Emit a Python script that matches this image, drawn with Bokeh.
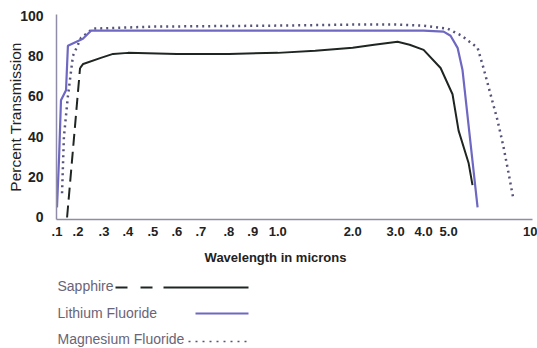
import numpy as np
from bokeh.plotting import figure
from bokeh.models import Range1d, FixedTicker
from bokeh.layouts import column
from bokeh.core.properties import value
from bokeh.embed import file_html
from bokeh.resources import INLINE

# ---- axis definition (irregular wavelength axis as printed) ----
TICK_WL = [0.1, 0.2, 0.3, 0.4, 0.5, 0.6, 0.7, 0.8, 0.9, 1.0, 2.0, 3.0, 4.0, 5.0, 10.0]
TICK_LABELS = [".1", ".2", ".3", ".4", ".5", ".6", ".7", ".8", ".9", "1.0",
               "2.0", "3.0", "4.0", "5.0", "10"]
TICK_POS = [56, 77, 103, 127, 152, 176, 200, 228, 252, 277, 352, 395, 423, 448, 530]
Y_TICKS = [0, 20, 40, 60, 80, 100]
X_TITLE = "Wavelength in microns"
Y_TITLE = "Percent Transmission"

# ---- series (wavelength in microns, percent transmission) ----
sapphire_dash_wl = [0.148, 0.208]
sapphire_dash_t = [0, 74]
sapphire_wl = [0.208, 0.22, 0.288, 0.338, 0.4, 0.6, 0.8, 1.0, 1.5, 2.0, 2.5, 3.07,
               3.5, 4.0, 4.68, 5.24, 5.61, 6.22, 6.46]
sapphire_t = [74, 76, 79, 81, 81.5, 81, 81, 81.5, 82.5, 84, 85.5, 87,
              85.5, 83, 74, 61, 43, 27, 16]

lif_wl = [0.100, 0.110, 0.119, 0.143, 0.152, 0.219, 0.25, 0.5, 1.0, 2.0, 3.0, 4.0,
          4.8, 5.12, 5.55, 5.85, 6.77]
lif_t = [5, 30, 58, 63, 85, 88.5, 92.5, 92.5, 92.5, 92.5, 92.5, 92.5,
         92, 90, 84, 73, 5]

mgf_wl = [0.124, 0.133, 0.152, 0.176, 0.212, 0.258, 0.5, 1.0, 2.0, 3.0, 4.0,
          4.96, 5.79, 6.77, 7.13, 7.56, 7.99, 8.35, 8.66, 8.96]
mgf_t = [12, 40, 60, 80, 89, 93.5, 94.5, 95, 95.5, 95.5, 95,
         93.5, 90, 84, 74, 61, 48, 35, 22, 9]

legend_names = ["Sapphire", "Lithium Fluoride", "Magnesium Fluoride"]


def ax(wl):
    return np.interp(np.asarray(wl, dtype=float), TICK_WL, TICK_POS)


FONT = "Liberation Sans"
AXIS_COLOR = "#8e8ca6"
SAPPHIRE_C = "#1f2622"
LIF_C = "#6e68c2"
MGF_C = "#55537a"

p = figure(width=537, height=245, output_backend="svg", toolbar_location=None,
           x_range=Range1d(55.5, 532), y_range=Range1d(-1, 100.5),
           min_border_left=56, min_border_right=5, min_border_top=14,
           min_border_bottom=26)
p.outline_line_color = None
p.grid.grid_line_color = None
p.background_fill_color = "white"
p.border_fill_color = "white"

p.xaxis.ticker = FixedTicker(ticks=TICK_POS)
p.xaxis.major_label_overrides = {pos: lab for pos, lab in zip(TICK_POS, TICK_LABELS)}
p.yaxis.ticker = FixedTicker(ticks=Y_TICKS)
p.yaxis.axis_label = Y_TITLE

for a in (p.xaxis, p.yaxis):
    a.axis_line_color = AXIS_COLOR
    a.axis_line_width = 1.5
    a.major_tick_line_color = None
    a.minor_tick_line_color = None
    a.major_label_text_font = FONT
    a.major_label_text_color = "#222222"
    a.major_label_text_font_style = "bold"
    a.axis_label_text_font = FONT
    a.axis_label_text_color = "#222222"
    a.axis_label_text_font_style = "normal"

p.xaxis.major_label_text_font_size = "13px"
p.xaxis.major_label_standoff = 1
p.yaxis.major_label_text_font_size = "14px"
p.yaxis.major_label_standoff = 7
p.yaxis.axis_label_text_font_size = "15.5px"
p.yaxis.axis_label_standoff = -7

# Magnesium fluoride (dotted)
p.line(ax(mgf_wl), mgf_t, line_color=MGF_C, line_width=2.5, line_dash="2 4")
# Lithium fluoride
p.line(ax(lif_wl), lif_t, line_color=LIF_C, line_width=2.2)
# Sapphire
p.line(ax(sapphire_dash_wl), sapphire_dash_t, line_color=SAPPHIRE_C, line_width=2,
       line_dash="12 6")
p.line(ax(sapphire_wl), sapphire_t, line_color=SAPPHIRE_C, line_width=2)

# ---- lower panel: x title and legend (text first, then sample line) ----
# its frame is aligned with the main frame (pixels 56..532), so use pixel units
lg = figure(width=537, height=103, output_backend="svg", toolbar_location=None,
            x_range=Range1d(56, 532), y_range=Range1d(103, 0),
            x_axis_location=None, y_axis_location=None,
            min_border_left=56, min_border_right=5, min_border_top=0,
            min_border_bottom=0)
lg.grid.grid_line_color = None
lg.outline_line_color = None
lg.background_fill_color = "white"
lg.border_fill_color = "white"

lg.text(x=[275], y=[12], text=[X_TITLE], text_font=value(FONT),
        text_font_size="13px", text_font_style="bold", text_color="#222222",
        text_baseline="middle", text_align="center")
lg.text(x=[57, 57, 57], y=[40, 67, 93], text=legend_names,
        text_font=value(FONT), text_font_size="14px", text_color="#6a6478",
        text_baseline="middle", text_align="left")
lg.line([115, 153], [42, 42], line_color=SAPPHIRE_C, line_width=2, line_dash="12 13")
lg.line([163, 248], [42, 42], line_color=SAPPHIRE_C, line_width=2)
lg.line([195, 248], [68, 68], line_color=LIF_C, line_width=2)
lg.line([188, 248], [96, 96], line_color=MGF_C, line_width=1.5, line_dash="2 5")

layout = column(p, lg, spacing=0)
open("out.html", "w").write(file_html(layout, INLINE))
